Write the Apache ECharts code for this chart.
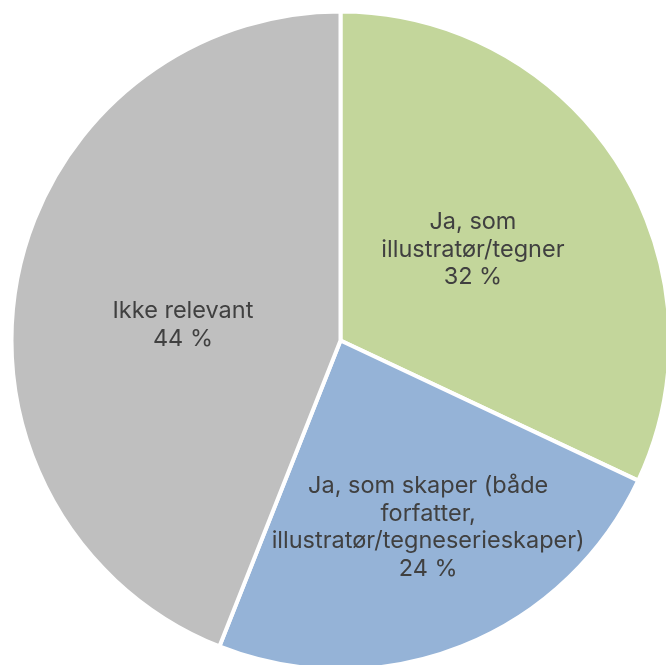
<!DOCTYPE html>
<html>
<head>
<meta charset="utf-8">
<script src="https://cdn.jsdelivr.net/npm/echarts@6/dist/echarts.min.js"></script>
<style>html,body{margin:0;padding:0;background:#fff;}#c{width:666px;height:665px;}</style>
</head>
<body>
<div id="c"></div>
<script>
const categories = [
  "Ja, som\nillustratør/tegner",
  "Ja, som skaper (både\nforfatter,\nillustratør/tegneserieskaper)",
  "Ikke relevant"
];
const values = [32, 24, 44];
const colors = ["#c3d69b", "#95b3d7", "#bfbfbf"];
const labelOffsets = [[-9, -1], [26, 31], [7, 16]];

const chart = echarts.init(document.getElementById('c'), null, {renderer: 'canvas'});
chart.setOption({
  animation: false,
  series: [{
    type: 'pie',
    center: [340.5, 340.5],
    radius: [0, 329],
    startAngle: 90,
    clockwise: true,
    avoidLabelOverlap: false,
    itemStyle: {borderColor: '#ffffff', borderWidth: 4},
    label: {
      show: true,
      position: 'inside',
      color: '#404040',
      fontFamily: 'Inter',
      fontSize: 23.5,
      lineHeight: 27.5,
      align: 'center',
      formatter: p => p.name + '\n' + p.value + ' %'
    },
    labelLine: {show: false},
    emphasis: {disabled: true},
    data: categories.map((n, i) => ({
      name: n,
      value: values[i],
      itemStyle: {color: colors[i]},
      label: {offset: labelOffsets[i]}
    }))
  }]
});
</script>
</body>
</html>
